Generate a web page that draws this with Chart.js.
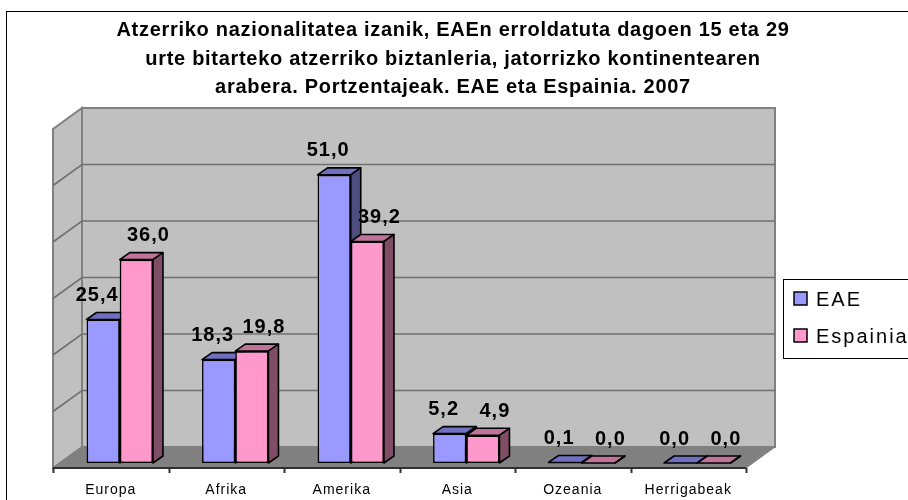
<!DOCTYPE html>
<html>
<head>
<meta charset="utf-8">
<script src="https://cdn.jsdelivr.net/npm/chart.js@4.4.0/dist/chart.umd.min.js"></script>
<style>
  html, body { margin: 0; padding: 0; background: #fff; }
  canvas { display: block; }
</style>
</head>
<body>
<canvas id="chart" width="908" height="500"></canvas>
<script>
// data
const categories = ['Europa', 'Afrika', 'Amerika', 'Asia', 'Ozeania', 'Herrigabeak'];
const eaeValues = [25.4, 18.3, 51.0, 5.2, 0.1, 0.0];
const espainiaValues = [36.0, 19.8, 39.2, 4.9, 0.0, 0.0];
const seriesNames = ['EAE', 'Espainia'];
const titleLines = [
    'Atzerriko nazionalitatea izanik, EAEn erroldatuta dagoen 15 eta 29',
    'urte bitarteko atzerriko biztanleria, jatorrizko kontinentearen',
    'arabera. Portzentajeak. EAE eta Espainia. 2007'
];
const yMax = 60;
const yStep = 10;

// fake 3D look (offsets from the plane the bar fronts sit in)
const FRONT = { dx: -9, dy: 5 };
const BACK = { dx: 20, dy: -16 };
const BAR_DEPTH = { dx: 10, dy: -7 };
const frontColors = ['#9999FF', '#FF99CC'];
const faceColors = [
    { top: '#7070C0', side: '#4D4D80' },
    { top: '#C07499', side: '#804D66' }
];
const labelShift = [-6, 12];
const FONT = "'Liberation Sans', Arial, sans-serif";

function poly(ctx, pts, fill, stroke, lw) {
    ctx.beginPath();
    ctx.moveTo(pts[0][0], pts[0][1]);
    for (let i = 1; i < pts.length; i++) ctx.lineTo(pts[i][0], pts[i][1]);
    ctx.closePath();
    if (fill) { ctx.fillStyle = fill; ctx.fill(); }
    if (stroke) { ctx.strokeStyle = stroke; ctx.lineWidth = lw || 1; ctx.stroke(); }
}

function barFaces(ctx, el, colors) {
    const p = el.getProps(['x', 'y', 'base', 'width'], true);
    const l = p.x - p.width / 2, r = p.x + p.width / 2;
    const t = Math.min(p.y, p.base), b = Math.max(p.y, p.base);
    const d = BAR_DEPTH;
    ctx.lineJoin = 'round';
    poly(ctx, [[l, t], [r, t], [r + d.dx, t + d.dy], [l + d.dx, t + d.dy]], colors.top, '#000', 1.6);
    poly(ctx, [[r, t], [r + d.dx, t + d.dy], [r + d.dx, b + d.dy], [r, b]], colors.side, '#000', 1.6);
}

const scenePlugin = {
    id: 'scene',
    beforeDraw(chart) {
        const ctx = chart.ctx;
        ctx.save();
        ctx.fillStyle = '#fff';
        ctx.fillRect(0, 0, chart.width, chart.height);
        ctx.strokeStyle = '#000';
        ctx.lineWidth = 1;
        ctx.strokeRect(6.5, 11.5, 1200, 1200);
        ctx.restore();
        // Excel-like loose spacing for the category labels
        ctx.letterSpacing = '1px';
    },
    beforeDatasetsDraw(chart) {
        const ctx = chart.ctx;
        const x = chart.scales.x, y = chart.scales.y;
        const L = x.left, R = x.right;
        const top = y.getPixelForValue(yMax), bot = y.getPixelForValue(0);
        ctx.save();
        // back wall
        poly(ctx, [[L + BACK.dx, top + BACK.dy], [R + BACK.dx, top + BACK.dy],
                   [R + BACK.dx, bot + BACK.dy], [L + BACK.dx, bot + BACK.dy]], '#C0C0C0', '#808080', 2);
        // left wall
        poly(ctx, [[L + FRONT.dx, top + FRONT.dy], [L + BACK.dx, top + BACK.dy],
                   [L + BACK.dx, bot + BACK.dy], [L + FRONT.dx, bot + FRONT.dy]], '#C0C0C0', '#808080', 2);
        // floor
        poly(ctx, [[L + FRONT.dx, bot + FRONT.dy], [R + FRONT.dx, bot + FRONT.dy],
                   [R + BACK.dx, bot + BACK.dy], [L + BACK.dx, bot + BACK.dy]], '#808080', '#808080', 1);
        // gridlines on both walls
        ctx.strokeStyle = '#707070';
        ctx.lineWidth = 1.6;
        for (let v = yStep; v < yMax; v += yStep) {
            const py = y.getPixelForValue(v);
            ctx.beginPath();
            ctx.moveTo(L + FRONT.dx, py + FRONT.dy);
            ctx.lineTo(L + BACK.dx, py + BACK.dy);
            ctx.lineTo(R + BACK.dx, py + BACK.dy);
            ctx.stroke();
        }
        // category axis on the front edge of the floor
        const ay = bot + FRONT.dy;
        ctx.strokeStyle = '#303030';
        ctx.lineWidth = 2;
        ctx.beginPath();
        ctx.moveTo(L + FRONT.dx, ay);
        ctx.lineTo(R + FRONT.dx, ay);
        const step = (R - L) / categories.length;
        for (let i = 0; i <= categories.length; i++) {
            const tx = Math.round(L + FRONT.dx + i * step) + 0.5;
            ctx.moveTo(tx, ay);
            ctx.lineTo(tx, ay + 5);
        }
        ctx.stroke();
        ctx.restore();
    },
    afterDatasetsDraw(chart) {
        const ctx = chart.ctx;
        const m0 = chart.getDatasetMeta(0), m1 = chart.getDatasetMeta(1);
        ctx.save();
        for (let i = 0; i < categories.length; i++) {
            barFaces(ctx, m0.data[i], faceColors[0]);
            m1.data[i].draw(ctx);
            barFaces(ctx, m1.data[i], faceColors[1]);
        }
        // value labels
        ctx.fillStyle = '#000';
        ctx.font = 'bold 20px ' + FONT;
        ctx.letterSpacing = '1px';
        ctx.textAlign = 'center';
        ctx.textBaseline = 'middle';
        [m0, m1].forEach((meta, s) => {
            const vals = chart.data.datasets[s].data;
            meta.data.forEach((el, i) => {
                const p = el.getProps(['x', 'y'], true);
                ctx.fillText(vals[i].toFixed(1).replace('.', ','), p.x + labelShift[s], p.y - 24);
            });
        });
        ctx.restore();
    },
    afterDraw(chart) {
        const ctx = chart.ctx;
        ctx.save();
        // title
        ctx.fillStyle = '#000';
        ctx.font = 'bold 20px ' + FONT;
        ctx.letterSpacing = '0.7px';
        ctx.textAlign = 'center';
        ctx.textBaseline = 'middle';
        titleLines.forEach((line, i) => ctx.fillText(line, 453, 30.5 + i * 28.5));
        // legend box
        ctx.strokeStyle = '#000';
        ctx.lineWidth = 1;
        ctx.strokeRect(783.5, 279.5, 200, 79);
        ctx.font = '20px ' + FONT;
        ctx.letterSpacing = '2px';
        ctx.textAlign = 'left';
        seriesNames.forEach((name, i) => {
            const cy = 299 + i * 37;
            ctx.fillStyle = frontColors[i];
            ctx.fillRect(794, cy - 7, 13, 13);
            ctx.strokeStyle = '#000';
            ctx.lineWidth = 1.5;
            ctx.strokeRect(794, cy - 7, 13, 13);
            ctx.fillStyle = '#000';
            ctx.fillText(name, 816, cy + 1);
        });
        ctx.restore();
    }
};

new Chart(document.getElementById('chart'), {
    type: 'bar',
    data: {
        labels: categories,
        datasets: [
            {
                label: seriesNames[0],
                data: eaeValues,
                backgroundColor: frontColors[0],
                borderColor: '#000',
                borderWidth: 1.6,
                borderSkipped: false
            },
            {
                label: seriesNames[1],
                data: espainiaValues,
                backgroundColor: frontColors[1],
                borderColor: '#000',
                borderWidth: 1.6,
                borderSkipped: false
            }
        ]
    },
    options: {
        responsive: false,
        animation: false,
        events: [],
        layout: {
            padding: { top: 124, left: 62, right: 153, bottom: 0 }
        },
        categoryPercentage: 0.575,
        barPercentage: 1.0,
        scales: {
            x: {
                grid: { display: false, drawTicks: false },
                border: { display: false },
                ticks: {
                    labelOffset: -9,
                    padding: 19,
                    color: '#000',
                    font: { family: FONT, size: 14 }
                },
                afterFit: (scale) => { scale.height = 37; }
            },
            y: {
                display: false,
                min: 0,
                max: yMax,
                ticks: { stepSize: yStep }
            }
        },
        plugins: {
            legend: { display: false },
            title: { display: false },
            tooltip: { enabled: false }
        }
    },
    plugins: [scenePlugin]
});
</script>
</body>
</html>
